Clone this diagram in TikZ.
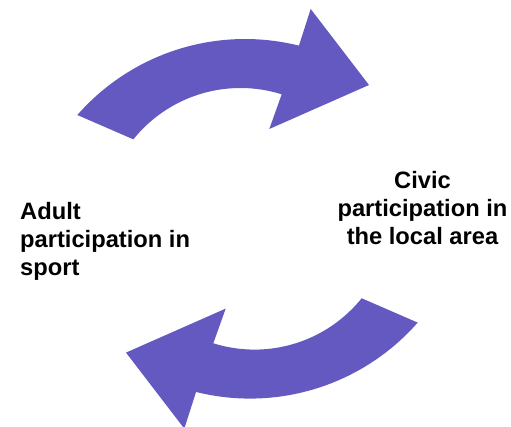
\documentclass[tikz,border=0pt]{standalone}
\usepackage{fontspec}
\setmainfont{Liberation Sans}
\definecolor{arrowpurple}{RGB}{100,89,192}
\begin{document}
\begin{tikzpicture}[x=1pt,y=-1pt,
  bigarrow/.style={fill=arrowpurple,draw=none},
  label/.style={font=\fontsize{23.7}{28}\selectfont\bfseries,inner sep=0pt}]
\useasboundingbox (0,0) rectangle (511,427);
% top arrow
\path[bigarrow] (77.3,115)
  -- plot[domain=-138.8:-76,samples=40] ({245+223*cos(\x)},{262+223*sin(\x)})
  -- (310.7,9) -- (369,85) -- (269.3,129) -- (281.7,94.3)
  -- plot[domain=-72.6:-141.2,samples=40] ({240.5+137.5*cos(\x)},{225.5+137.5*sin(\x)})
  -- cycle;
% bottom arrow (same shape turned half round)
\begin{scope}[rotate around={180:(247.5,218.8)}]
\path[bigarrow] (77.3,115)
  -- plot[domain=-138.8:-76,samples=40] ({245+223*cos(\x)},{262+223*sin(\x)})
  -- (310.7,9) -- (369,85) -- (269.3,129) -- (281.7,94.3)
  -- plot[domain=-72.6:-141.2,samples=40] ({240.5+137.5*cos(\x)},{225.5+137.5*sin(\x)})
  -- cycle;
\end{scope}
\node[label,anchor=base west,align=left] (adult) at (20,276) {Adult\\participation in\\sport};
\node[label,anchor=base,align=center] (civic) at (422.5,245) {Civic\\participation in\\the local area};
\end{tikzpicture}
\end{document}
